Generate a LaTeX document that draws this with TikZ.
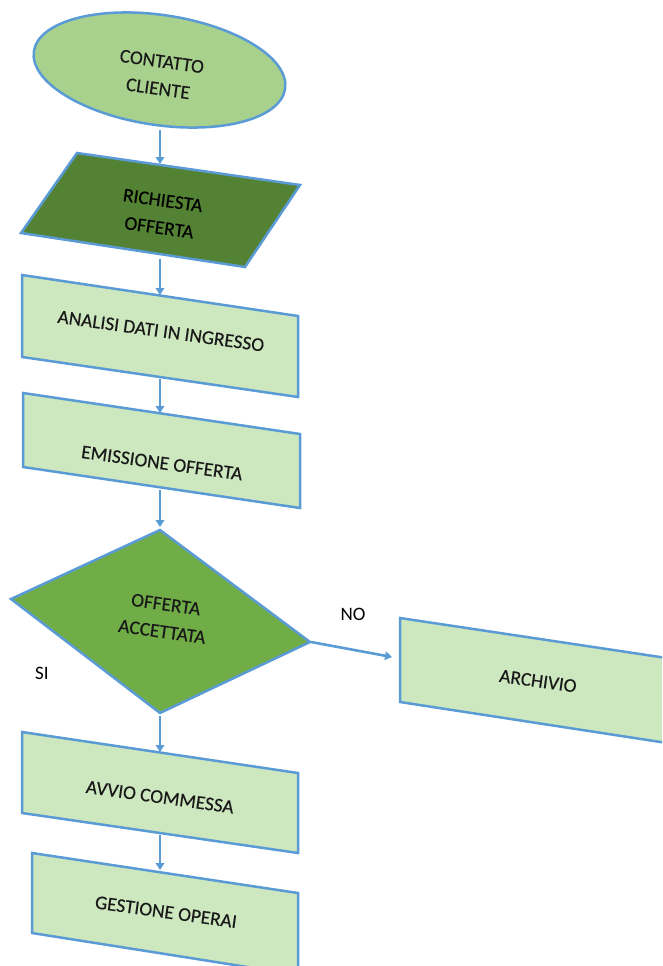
\documentclass[tikz,border=0pt]{standalone}
\usepackage{fontspec}
\setmainfont{Carlito}
\newfontfamily\shapefont[FakeBold=0.3]{Carlito}
\usetikzlibrary{shapes.geometric,arrows.meta}
\definecolor{bord}{HTML}{5B9BD5}
\definecolor{ellfill}{HTML}{A9D18E}
\definecolor{parfill}{HTML}{548235}
\definecolor{rectfill}{HTML}{CDE7BF}
\definecolor{diafill}{HTML}{70AD47}
\tikzset{
  shp/.style={draw=bord, line width=2.5pt, line join=miter},
  lbl/.style={font=\shapefont\fontsize{19.4}{27.5}\selectfont, text=black!90, align=center, rotate=-8, inner sep=0pt},
  plain/.style={font=\fontsize{19}{22}\selectfont, text=black, inner sep=0pt},
  arr/.style={draw=bord, line width=2.6pt, -{Triangle[length=7pt,width=8.5pt]}}
}
\begin{document}
\begin{tikzpicture}[x=1pt,y=-1pt]
\useasboundingbox (0,0) rectangle (662,966);
\clip (0,0) rectangle (662,966);
% shapes
\node[shp, ellipse, fill=ellfill, rotate=-8.5, minimum width=254pt, minimum height=110pt, inner sep=0pt] (contatto) at (159.5,70) {};
\filldraw[shp, fill=parfill] (77,153) -- (300,185) -- (245,267) -- (21,233) -- cycle;
\filldraw[shp, fill=rectfill] (22,275) -- (298,316) -- (298,397) -- (22,357) -- cycle;
\filldraw[shp, fill=rectfill] (23,393) -- (300,434) -- (300,508) -- (23,467) -- cycle;
\filldraw[shp, fill=diafill] (160,530) -- (310,642) -- (160,713) -- (11,599) -- cycle;
\filldraw[shp, fill=rectfill] (400,618) -- (680,660) -- (680,745) -- (400,702) -- cycle;
\filldraw[shp, fill=rectfill] (22,732) -- (298,773) -- (298,853) -- (22,813) -- cycle;
\filldraw[shp, fill=rectfill] (32,853) -- (298,893) -- (298,975) -- (32,933) -- cycle;
% texts
\node[lbl] (tcontatto) at (160,75) {CONTATTO\\CLIENTE};
\node[lbl, text=black] (trichiesta) at (161,214) {RICHIESTA\\OFFERTA};
\node[lbl] (tanalisi) at (161,331) {ANALISI DATI IN INGRESSO};
\node[lbl] (temissione) at (162,463) {EMISSIONE OFFERTA};
\node[lbl] (tofferta) at (164,618) {OFFERTA\\ACCETTATA};
\node[lbl] (tarchivio) at (538,681) {ARCHIVIO};
\node[lbl] (tavvio) at (160,797) {AVVIO COMMESSA};
\node[lbl] (tgestione) at (166,912) {GESTIONE OPERAI};
\node[plain] (no) at (353,614) {NO};
\node[plain] (si) at (42,673) {SI};
% connector end points
\coordinate (a1) at (160,130); \coordinate (b1) at (160,164);
\coordinate (a2) at (160,259); \coordinate (b2) at (160,295);
\coordinate (a3) at (160,379); \coordinate (b3) at (160,413);
\coordinate (a4) at (160,490); \coordinate (b4) at (160,527);
\coordinate (a5) at (160,716); \coordinate (b5) at (160,752);
\coordinate (a6) at (160,835); \coordinate (b6) at (160,870);
\coordinate (a7) at (311,642); \coordinate (b7) at (392,657);
\draw[arr] (a1) -- (b1);
\draw[arr] (a2) -- (b2);
\draw[arr] (a3) -- (b3);
\draw[arr] (a4) -- (b4);
\draw[arr] (a5) -- (b5);
\draw[arr] (a6) -- (b6);
\draw[arr] (a7) -- (b7);
\end{tikzpicture}
\end{document}
